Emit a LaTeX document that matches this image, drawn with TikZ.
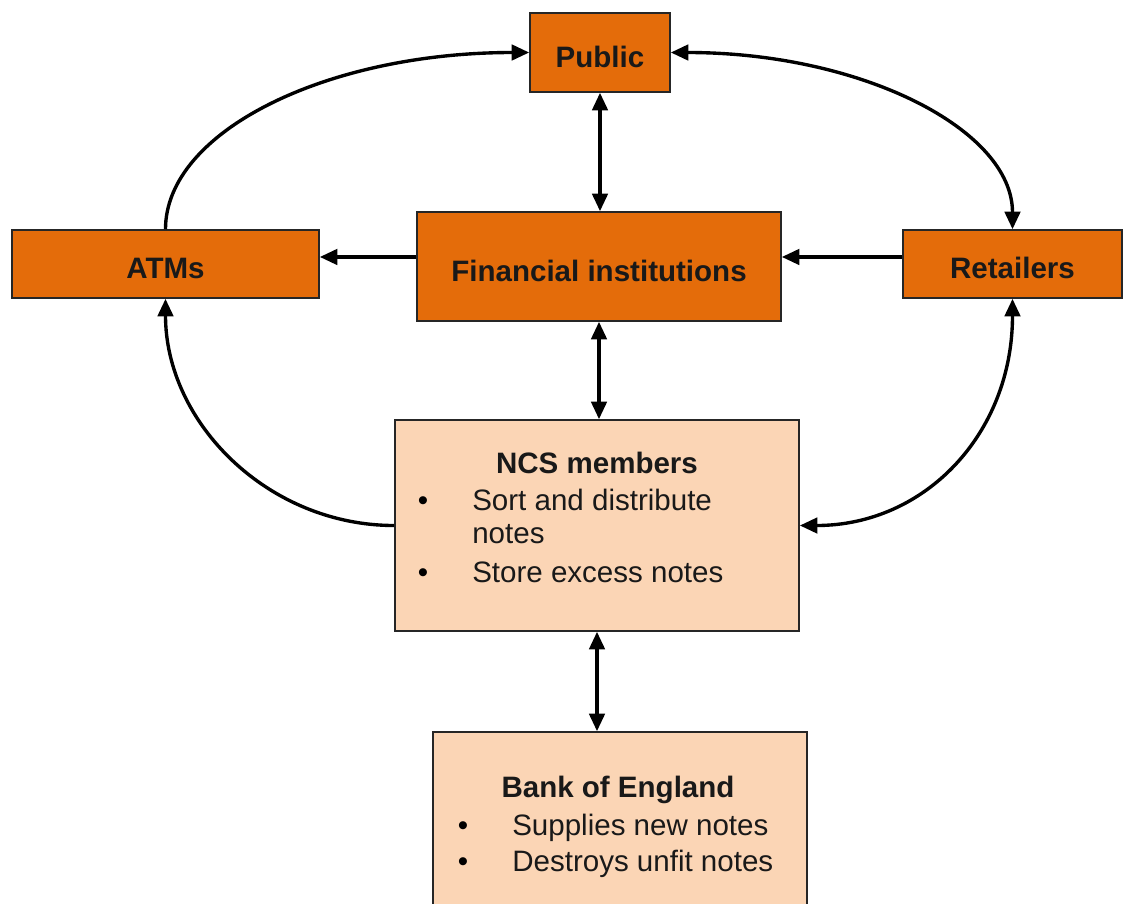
\documentclass[tikz,border=0pt]{standalone}
\usepackage{fontspec}
\setmainfont{Liberation Sans}
\usetikzlibrary{arrows.meta}
\definecolor{boxorange}{RGB}{228,108,10}
\definecolor{boxpeach}{RGB}{251,213,181}
\begin{document}
\begin{tikzpicture}[x=0.025cm,y=-0.025cm,
		darkbox/.style={draw=black!85,line width=1.1pt,fill=boxorange,text=black!90,font=\fontsize{21}{25}\selectfont\bfseries,text height=21pt,text depth=0pt,inner sep=0pt},
		lightbox/.style={draw=black!85,line width=1.1pt,fill=boxpeach,inner sep=0pt},
		boxtitle/.style={anchor=base,text=black!90,font=\fontsize{21}{25}\selectfont\bfseries,inner sep=0pt},
		boxitem/.style={anchor=base west,text=black!90,font=\fontsize{21}{25}\selectfont,inner sep=0pt},
		bulletdot/.style={anchor=base,font=\fontsize{21}{25}\selectfont,inner sep=0pt},
		link/.style={line width=2.4pt,-{Triangle[length=12.5pt,width=11pt]}},
		dbllink/.style={line width=2.4pt,{Triangle[length=12.5pt,width=11pt]}-{Triangle[length=12.5pt,width=11pt]}}]
	\useasboundingbox (0,0) rectangle (1124,903);
	% top row
	\node[darkbox,minimum width=3.5cm,minimum height=1.975cm] (public) at (600,52.5) {Public};
	\node[darkbox,minimum width=7.675cm,minimum height=1.7cm] (atms) at (165.5,264) {ATMs};
	\node[darkbox,minimum width=9.1cm,minimum height=2.725cm] (fin) at (599,266.5) {Financial institutions};
	\node[darkbox,minimum width=5.475cm,minimum height=1.7cm] (retailers) at (1012.5,264) {Retailers};
	% lower boxes
	\node[lightbox,minimum width=10.1cm,minimum height=5.275cm] (ncs) at (597,525.5) {};
	\node[boxtitle] (ncstitle) at (597,473) {NCS members};
	\node[bulletdot] (ncsdot1) at (423,510) {\textbullet};
	\node[boxitem] (ncsitem1) at (472,510) {Sort and distribute};
	\node[boxitem] (ncsitem1b) at (472,543) {notes};
	\node[bulletdot] (ncsdot2) at (423,582) {\textbullet};
	\node[boxitem] (ncsitem2) at (472,582) {Store excess notes};
	\node[lightbox,minimum width=9.35cm,minimum height=4.9cm] (bank) at (620,830) {};
	\node[boxtitle] (banktitle) at (618,797) {Bank of England};
	\node[bulletdot] (bankdot1) at (463,835) {\textbullet};
	\node[boxitem] (bankitem1) at (512,835) {Supplies new notes};
	\node[bulletdot] (bankdot2) at (463,871) {\textbullet};
	\node[boxitem] (bankitem2) at (512,871) {Destroys unfit notes};
	% connectors
	\draw[dbllink] (public.south) -- (public.south |- fin.north);
	\draw[dbllink] (fin.south) -- (fin.south |- ncs.north);
	\draw[dbllink] (ncs.south) -- (ncs.south |- bank.north);
	\draw[link] ([yshift=5pt]atms.east -| fin.west) -- ([yshift=5pt]atms.east);
	\draw[link] ([yshift=5pt]retailers.west) -- ([yshift=5pt]retailers.west -| fin.east);
	\draw[link] (atms.north) .. controls +(0,-98) and +(-202,0) .. (public.west);
	\draw[dbllink] (public.east) .. controls +(190,0) and +(0,-100) .. (retailers.north);
	\draw[link] (ncs.west) .. controls +(-126,0) and +(0,124) .. (atms.south);
	\draw[dbllink] (ncs.east) .. controls +(125,0) and +(0,135) .. (retailers.south);
\end{tikzpicture}
\end{document}
